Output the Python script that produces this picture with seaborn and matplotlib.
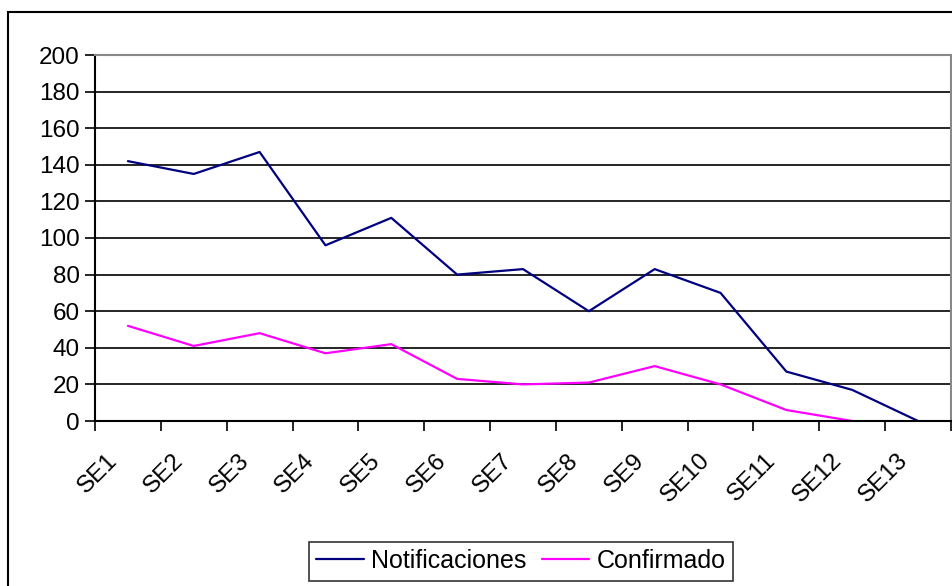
"""
Weekly notifications vs confirmed cases, line chart in an old spreadsheet style.
"""

import numpy as np
import pandas as pd
import matplotlib
matplotlib.use("Agg")
import matplotlib.pyplot as plt
import matplotlib.transforms as mtransforms
from matplotlib.patches import Rectangle
import seaborn as sns

# data
weeks = ["SE1", "SE2", "SE3", "SE4", "SE5", "SE6", "SE7",
         "SE8", "SE9", "SE10", "SE11", "SE12", "SE13"]
notificaciones = [142, 135, 147, 96, 111, 80, 83, 60, 83, 70, 27, 17, 0]
confirmado = [52, 41, 48, 37, 42, 23, 20, 21, 30, 20, 6, 0, np.nan]
series_names = ["Notificaciones", "Confirmado"]
series_colors = ["#000080", "#FF00FF"]
y_ticks = list(range(0, 201, 20))

sns.set_theme(style="white")
plt.rcParams["font.family"] = ["Liberation Sans", "DejaVu Sans"]
plt.rcParams["text.color"] = "black"
plt.rcParams["xtick.color"] = "black"
plt.rcParams["ytick.color"] = "black"

# long-form table for seaborn
df = pd.DataFrame({
    "pos": list(range(len(weeks))) * 2,
    "value": notificaciones + confirmado,
    "serie": [series_names[0]] * len(weeks) + [series_names[1]] * len(weeks),
}).dropna()

fig = plt.figure(figsize=(9.53, 5.86), dpi=100)
ax = fig.add_axes([95 / 953, 1 - 421 / 586, (951 - 95) / 953, (421 - 55) / 586])

sns.lineplot(data=df, x="pos", y="value", hue="serie", hue_order=series_names,
             palette=series_colors, linewidth=1.6, ax=ax, legend=False,
             estimator=None, sort=False)

# axes limits and grid
ax.set_xlim(-0.5, len(weeks) - 0.5)
ax.set_ylim(0, 200)
ax.set_yticks(y_ticks)
ax.set_yticklabels([str(t) for t in y_ticks])
ax.yaxis.grid(True, color="black", linewidth=1.2)
ax.xaxis.grid(False)
ax.set_axisbelow(True)

# category boundaries as major ticks, labels at category centres
ax.set_xticks(np.arange(-0.5, len(weeks), 1.0))
ax.set_xticklabels([])
ax.set_xticks(np.arange(len(weeks)), minor=True)
ax.set_xticklabels(weeks, minor=True, rotation=45, ha="right", va="center",
                   rotation_mode="anchor")
ax.tick_params(axis="x", which="major", direction="out", length=7, width=1.2,
               color="black", bottom=True)
ax.tick_params(axis="x", which="minor", length=0, pad=26, labelsize=17.5)
ax.tick_params(axis="y", direction="out", length=7, width=1.2, color="black",
               left=True, labelsize=17.5, pad=4)
ax.set_xlabel("")
ax.set_ylabel("")

# shift rotated week labels a bit to the left, like the reference
shift = mtransforms.ScaledTranslation(-14 / 100, 0, fig.dpi_scale_trans)
for lbl in ax.get_xticklabels(minor=True):
    lbl.set_transform(lbl.get_transform() + shift)

for side in ["left", "bottom"]:
    ax.spines[side].set_color("black")
    ax.spines[side].set_linewidth(1.5)
for side in ["top", "right"]:
    ax.spines[side].set_color("#888888")
    ax.spines[side].set_linewidth(1.5)

# legend under the plot
handles = [plt.Line2D([], [], color=c, linewidth=1.6) for c in series_colors]
leg = fig.legend(handles, series_names, loc="center", ncol=2,
                 bbox_to_anchor=(521 / 953, 1 - 561 / 586), fontsize=18,
                 frameon=True, fancybox=False, handlelength=1.9,
                 handletextpad=0.3, columnspacing=0.6, borderpad=0.3)
leg.get_frame().set_edgecolor("black")
leg.get_frame().set_linewidth(1.2)

# outer chart border
fig.patches.append(Rectangle((8 / 953, -0.1), 1.2, 1 - 12 / 586 + 0.1,
                             transform=fig.transFigure, fill=False,
                             edgecolor="black", linewidth=1.5))

fig.savefig("out.png", dpi=100, facecolor="white")
